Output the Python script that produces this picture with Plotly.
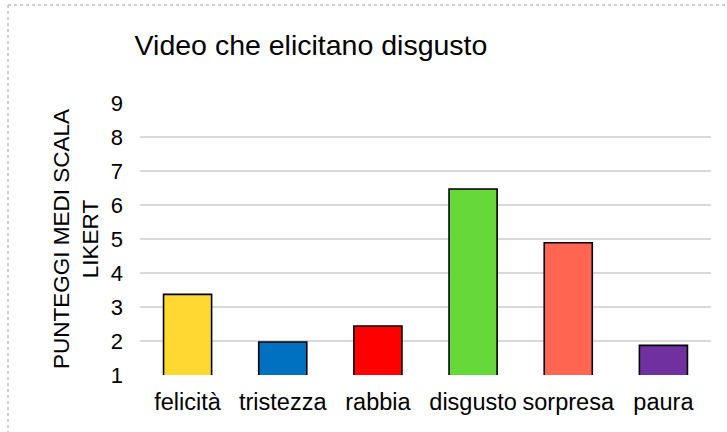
import plotly.graph_objects as go

categories = ["felicità", "tristezza", "rabbia", "disgusto", "sorpresa", "paura"]
values = [3.37, 1.97, 2.44, 6.47, 4.89, 1.87]
colors = ["#FFD932", "#0070C0", "#FF0000", "#66D83A", "#FF6550", "#7030A0"]
y_ticks = [1, 2, 3, 4, 5, 6, 7, 8, 9]

W, H = 727, 432
ML, MR, MT, MB = 140, 16, 103, 57
pw, ph = W - ML - MR, H - MT - MB

def px_x(x):
    return (x - ML) / pw

def px_y(y):
    return (H - MB - y) / ph

fig = go.Figure(go.Bar(
    x=categories, y=values,
    marker=dict(color=colors, line=dict(color="#000000", width=1.6)),
    width=0.505,
))

fig.update_layout(
    width=W, height=H,
    margin=dict(l=ML, r=MR, t=MT, b=MB),
    paper_bgcolor="white", plot_bgcolor="white",
    font=dict(family="Liberation Sans, Arial, sans-serif", color="#000000"),
    showlegend=False,
    title=dict(text="Video che elicitano disgusto", x=311 / W,
               xanchor="center", y=1 - 45 / H, yanchor="middle",
               font=dict(size=28.5)),
    xaxis=dict(showline=False, ticks="", tickfont=dict(size=23.5), showgrid=False,
               ticklabelstandoff=10),
    yaxis=dict(range=[1, 9], tickvals=y_ticks, showgrid=True, gridcolor="#d9d9d9",
               gridwidth=1.5, zeroline=False, showline=False, ticks="",
               tickfont=dict(size=22), ticklabelstandoff=16,
               title=dict(text="PUNTEGGI MEDI SCALA<br>LIKERT", font=dict(size=22.5), standoff=5)),
    shapes=[
        dict(type="line", xref="paper", yref="paper", x0=px_x(8), x1=px_x(W + 5),
             y0=px_y(5), y1=px_y(5), line=dict(color="#bfbfbf", width=1.5, dash="dot")),
        dict(type="line", xref="paper", yref="paper", x0=px_x(8), x1=px_x(8),
             y0=px_y(5), y1=px_y(H + 5), line=dict(color="#bfbfbf", width=1.5, dash="dot")),
    ],
)

fig.write_html("out.html", config={"displayModeBar": False},
               post_script="document.body.style.margin='0';document.body.style.overflow='hidden';")
